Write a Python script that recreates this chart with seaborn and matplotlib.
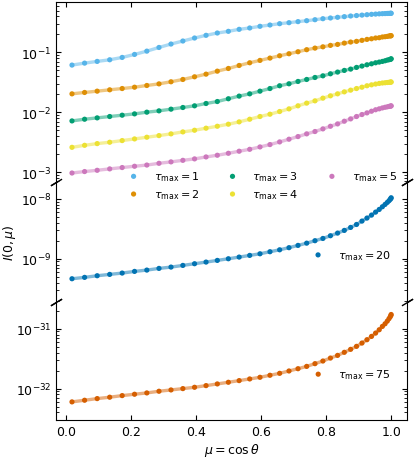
import matplotlib
matplotlib.use("Agg")
import matplotlib.pyplot as plt
from matplotlib.ticker import NullFormatter, LogLocator
import seaborn as sns

# mu = cos(theta) grid
mu = [0.01745, 0.05626, 0.09498, 0.13355, 0.17193, 0.21003, 0.24784, 0.28528, 0.32227, 0.35878,
      0.39474, 0.43013, 0.46484, 0.49887, 0.53206, 0.56455, 0.59619, 0.62692, 0.65670, 0.68549,
      0.71325, 0.73992, 0.76548, 0.78988, 0.81310, 0.83508, 0.85581, 0.87525, 0.89337, 0.91014,
      0.92554, 0.93955, 0.95213, 0.96328, 0.97298, 0.98121, 0.98796, 0.99322, 0.99699, 0.99925, 1.0]

I_tau1 = [0.0614, 0.0662, 0.0707, 0.0753, 0.0824, 0.0925, 0.105, 0.121, 0.138, 0.155,
          0.174, 0.193, 0.211, 0.225, 0.243, 0.256, 0.273, 0.287, 0.302, 0.314,
          0.327, 0.339, 0.352, 0.366, 0.376, 0.386, 0.396, 0.406, 0.413, 0.420,
          0.427, 0.433, 0.437, 0.441, 0.444, 0.446, 0.448, 0.449, 0.450, 0.450, 0.451]
I_tau2 = [0.0203, 0.0214, 0.0225, 0.0237, 0.0249, 0.0262, 0.0280, 0.0298, 0.0323, 0.0353,
          0.0391, 0.0433, 0.0486, 0.0539, 0.0605, 0.0671, 0.0735, 0.0804, 0.0879, 0.0950,
          0.1026, 0.111, 0.118, 0.124, 0.131, 0.136, 0.143, 0.149, 0.153, 0.159,
          0.165, 0.169, 0.174, 0.176, 0.181, 0.183, 0.185, 0.188, 0.189, 0.190, 0.190]
I_tau3 = [0.00716, 0.00764, 0.00805, 0.00848, 0.00892, 0.00939, 0.01002, 0.01055, 0.01125, 0.0120,
          0.0128, 0.0140, 0.0151, 0.0168, 0.0186, 0.0203, 0.0225, 0.0249, 0.0277, 0.0299,
          0.0327, 0.0353, 0.0381, 0.0406, 0.0439, 0.0469, 0.0500, 0.0526, 0.0561, 0.0591,
          0.0621, 0.0645, 0.0671, 0.0689, 0.0707, 0.0725, 0.0744, 0.0754, 0.0763, 0.0773, 0.0783]
I_tau4 = [0.00259, 0.00280, 0.00299, 0.00315, 0.00336, 0.00358, 0.00382, 0.00407, 0.00435, 0.00469,
          0.00500, 0.00541, 0.00583, 0.00631, 0.00690, 0.00764, 0.00848, 0.00927, 0.01028, 0.01138,
          0.0128, 0.0142, 0.0155, 0.0172, 0.0188, 0.0203, 0.0219, 0.0234, 0.0249, 0.0262,
          0.0277, 0.0287, 0.0296, 0.0303, 0.0308, 0.0311, 0.0314, 0.0316, 0.0318, 0.0319, 0.0320]
I_tau5 = [0.000964, 0.00102, 0.00107, 0.00113, 0.00119, 0.00125, 0.00131, 0.00140, 0.00148, 0.00157,
          0.00166, 0.00179, 0.00191, 0.00206, 0.00223, 0.00240, 0.00263, 0.00288, 0.00319, 0.00354,
          0.00392, 0.00435, 0.00476, 0.00527, 0.00583, 0.00638, 0.00708, 0.00774, 0.00848, 0.00915,
          0.00975, 0.0104, 0.0110, 0.0114, 0.0118, 0.0121, 0.0123, 0.0125, 0.0126, 0.0127, 0.0128]
I_tau20 = [4.64e-10, 4.89e-10, 5.21e-10, 5.48e-10, 5.77e-10, 6.15e-10, 6.47e-10, 6.90e-10, 7.26e-10, 7.74e-10,
           8.26e-10, 8.80e-10, 9.38e-10, 1.00e-9, 1.066e-9, 1.137e-9, 1.21e-9, 1.31e-9, 1.41e-9, 1.53e-9,
           1.67e-9, 1.82e-9, 2.00e-9, 2.18e-9, 2.42e-9, 2.68e-9, 2.97e-9, 3.33e-9, 3.73e-9, 4.25e-9,
           4.77e-9, 5.35e-9, 6.00e-9, 6.64e-9, 7.36e-9, 8.05e-9, 8.69e-9, 9.26e-9, 9.75e-9, 1.013e-8, 1.04e-8]
I_tau75 = [6.00e-33, 6.39e-33, 6.81e-33, 7.18e-33, 7.64e-33, 8.05e-33, 8.47e-33, 9.03e-33, 9.50e-33, 1.00e-32,
           1.052e-32, 1.122e-32, 1.197e-32, 1.276e-32, 1.36e-32, 1.45e-32, 1.545e-32, 1.67e-32, 1.80e-32, 1.97e-32,
           2.15e-32, 2.35e-32, 2.61e-32, 2.89e-32, 3.24e-32, 3.59e-32, 4.04e-32, 4.53e-32, 5.08e-32, 5.77e-32,
           6.56e-32, 7.45e-32, 8.47e-32, 9.62e-32, 1.094e-31, 1.21e-31, 1.34e-31, 1.47e-31, 1.58e-31, 1.67e-31, 1.73e-31]

top_labels = ["1", "2", "3", "4", "5"]

plt.rcParams.update({
    "font.size": 9,
    "legend.fontsize": 8,
    "xtick.direction": "in", "ytick.direction": "in",
    "xtick.major.size": 3.5, "ytick.major.size": 3.5,
    "ytick.minor.size": 2, "xtick.minor.size": 2,
    "xtick.major.width": 0.8, "ytick.major.width": 0.8,
})

cb = sns.color_palette("colorblind")
top_colors = [cb[9], cb[1], cb[2], cb[8], cb[4]]

fig, (ax1, ax2, ax3) = plt.subplots(3, 1, figsize=(4.15, 4.6), dpi=100, sharex=True,
                                    gridspec_kw=dict(height_ratios=[180, 120, 118], hspace=0))
fig.subplots_adjust(left=0.135, right=0.981, top=0.993, bottom=0.085)


def draw(ax, y, c, lab):
    sns.lineplot(x=mu, y=y, ax=ax, color=c, lw=2.4, alpha=0.5, legend=False)
    sns.scatterplot(x=mu, y=y, ax=ax, color=c, s=14, edgecolor="none", label=lab, legend=False, zorder=3)


for y, c, t in zip([I_tau1, I_tau2, I_tau3, I_tau4, I_tau5], top_colors, top_labels):
    draw(ax1, y, c, r"$\tau_{\rm max} = %s$" % t)
draw(ax2, I_tau20, cb[0], r"$\tau_{\rm max} = 20$")
draw(ax3, I_tau75, cb[3], r"$\tau_{\rm max} = 75$")

major = {ax1: [1e-3, 1e-2, 1e-1], ax2: [1e-9, 1e-8], ax3: [1e-32, 1e-31]}
for ax in (ax1, ax2, ax3):
    ax.set_yscale("log")
    ax.set_yticks(major[ax])
    ax.yaxis.set_minor_locator(LogLocator(base=10, subs=range(2, 10), numticks=50))
    ax.yaxis.set_minor_formatter(NullFormatter())
    ax.tick_params(which="both", right=True, top=False, bottom=False)
    ax.set_xlabel("")
    ax.set_ylabel("")

ax1.set_ylim(6.8e-4, 0.69)
ax2.set_ylim(1.9e-10, 1.9e-8)
ax3.set_ylim(3.0e-33, 2.8e-31)

ax1.spines["bottom"].set_visible(False)
ax2.spines["top"].set_visible(False)
ax2.spines["bottom"].set_visible(False)
ax3.spines["top"].set_visible(False)
ax1.tick_params(axis="x", top=True)
ax3.tick_params(axis="x", bottom=True)
ax3.set_xticks([0.0, 0.2, 0.4, 0.6, 0.8, 1.0])

# break marks
d = 0.6
kw = dict(marker=[(-1, -d), (1, d)], markersize=8, linestyle="none", color="k", mec="k", mew=1, clip_on=False)
ax1.plot([0, 1], [0, 0], transform=ax1.transAxes, **kw)
ax2.plot([0, 1], [1, 1], transform=ax2.transAxes, **kw)
ax2.plot([0, 1], [0, 0], transform=ax2.transAxes, **kw)
ax3.plot([0, 1], [1, 1], transform=ax3.transAxes, **kw)

ax2.set_ylabel(r"$I(0,\mu)$", labelpad=2)
ax3.set_xlabel(r"$\mu = \cos\theta$", labelpad=2)

h, l = ax1.get_legend_handles_labels()
ax1.set_zorder(5)
ax1.legend(h, l, ncol=3, frameon=False, loc="center", bbox_to_anchor=(260 / 415, 1 - 186 / 460),
           bbox_transform=fig.transFigure, labelspacing=0.35)
ax2.legend(frameon=False, loc="center", bbox_to_anchor=(349 / 415, 1 - 255.7 / 460),
           bbox_transform=fig.transFigure)
ax3.legend(frameon=False, loc="center", bbox_to_anchor=(349 / 415, 1 - 375 / 460),
           bbox_transform=fig.transFigure)

fig.savefig("out.png", dpi=100)
